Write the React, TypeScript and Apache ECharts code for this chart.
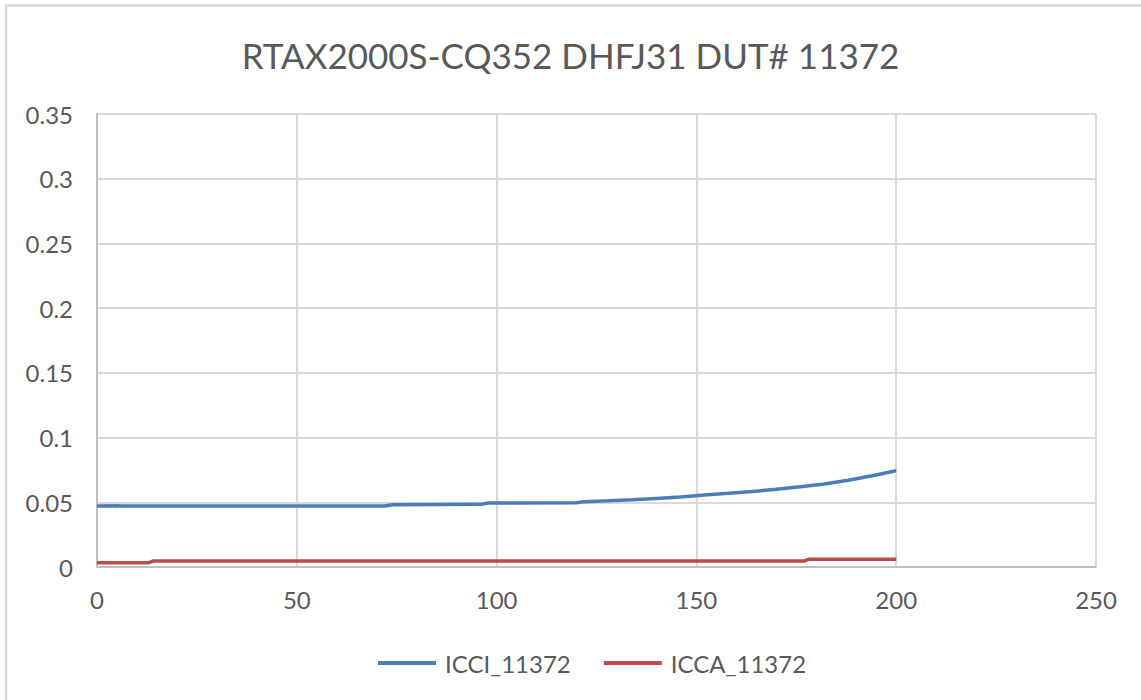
import React, { useEffect, useRef } from "react";
import * as echarts from "echarts";

const titleText = "RTAX2000S-CQ352 DHFJ31 DUT# 11372";
const seriesNames = ["ICCI_11372", "ICCA_11372"];

const icciX = [0, 5, 6, 72, 74, 96, 98, 120, 122, 128, 134, 140, 146, 152, 158, 164, 170, 176, 182, 188, 194, 200];
const icciY = [0.0472, 0.0474, 0.0472, 0.0472, 0.0481, 0.0484, 0.0494, 0.0496, 0.0505, 0.0511, 0.0519, 0.053, 0.0541, 0.0556, 0.0569, 0.0584, 0.06, 0.062, 0.0642, 0.067, 0.0705, 0.0744];

const iccaX = [0, 13, 14, 177, 178, 200];
const iccaY = [0.0033, 0.0033, 0.0046, 0.0046, 0.0059, 0.0059];

const xMin = 0, xMax = 250, xInterval = 50;
const yMin = 0, yMax = 0.35, yInterval = 0.05;

const FONT = "Lato";
const TXT = "#595959";

export default function App() {
  const ref = useRef<HTMLDivElement>(null);
  useEffect(() => {
    document.body.style.margin = "0";
    const chart = echarts.init(ref.current!, null, { renderer: "svg" });
    chart.setOption({
      animation: false,
      backgroundColor: "#ffffff",
      title: {
        text: titleText,
        left: "center",
        top: 32,
        textStyle: { fontFamily: FONT, fontSize: 35, fontWeight: "normal", color: TXT },
      },
      graphic: [
        {
          type: "rect",
          shape: { x: 6, y: 5.5, width: 1300, height: 900 },
          style: { fill: "none", stroke: "#d9d9d9", lineWidth: 2.5 },
        },
      ],
      legend: {
        left: 373,
        top: 646,
        icon: "rect",
        itemWidth: 58,
        itemHeight: 4,
        itemGap: 33,
        textStyle: { fontFamily: FONT, fontSize: 24, color: TXT, padding: [0, 0, 0, 4] },
        data: seriesNames,
      },
      grid: { left: 97, top: 114, right: 45, bottom: 133, containLabel: false },
      xAxis: {
        type: "value",
        min: xMin,
        max: xMax,
        interval: xInterval,
        axisLine: { show: true, lineStyle: { color: "#bfbfbf", width: 2 } },
        axisTick: { show: false },
        axisLabel: { fontFamily: FONT, fontSize: 24, color: TXT, margin: 20 },
        splitLine: { show: true, lineStyle: { color: "#d9d9d9", width: 2 } },
      },
      yAxis: {
        type: "value",
        min: yMin,
        max: yMax,
        interval: yInterval,
        axisLine: { show: true, lineStyle: { color: "#bfbfbf", width: 2 } },
        axisTick: { show: false },
        axisLabel: { fontFamily: FONT, fontSize: 24, color: TXT, margin: 24 },
        splitLine: { show: true, lineStyle: { color: "#d9d9d9", width: 2 } },
      },
      series: [
        {
          name: seriesNames[0],
          type: "line",
          showSymbol: false,
          data: icciX.map((x, i) => [x, icciY[i]]),
          lineStyle: { color: "#4a7ebb", width: 3.5 },
          itemStyle: { color: "#4a7ebb" },
        },
        {
          name: seriesNames[1],
          type: "line",
          showSymbol: false,
          data: iccaX.map((x, i) => [x, iccaY[i]]),
          lineStyle: { color: "#be4b48", width: 3.5 },
          itemStyle: { color: "#be4b48" },
        },
      ],
    });
    return () => chart.dispose();
  }, []);
  return <div ref={ref} style={{ width: 1141, height: 700 }} />;
}
